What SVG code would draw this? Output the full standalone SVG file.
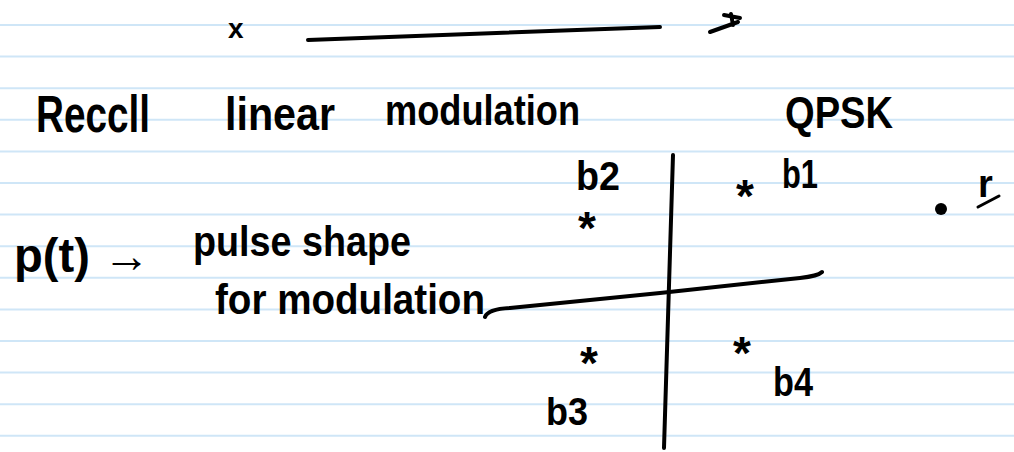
<svg xmlns="http://www.w3.org/2000/svg" width="1014" height="452" viewBox="0 0 1014 452">
<style>
.rule{stroke:#cfe6f7;stroke-width:2}
.ink{font-family:"Liberation Sans","DejaVu Sans",sans-serif;fill:#000;font-weight:bold}
.star{font-family:"Liberation Sans","DejaVu Sans",sans-serif;fill:#000;font-weight:bold;font-size:46px}
.pen{stroke:#000;fill:none;stroke-linecap:round;stroke-linejoin:round}
</style>
<rect width="1014" height="452" fill="#fff"/>
<g id="paper-lines">
<line class="rule" x1="0" y1="25" x2="1014" y2="25"/>
<line class="rule" x1="0" y1="56.6" x2="1014" y2="56.6"/>
<line class="rule" x1="0" y1="88.2" x2="1014" y2="88.2"/>
<line class="rule" x1="0" y1="119.8" x2="1014" y2="119.8"/>
<line class="rule" x1="0" y1="151.4" x2="1014" y2="151.4"/>
<line class="rule" x1="0" y1="183" x2="1014" y2="183"/>
<line class="rule" x1="0" y1="214.6" x2="1014" y2="214.6"/>
<line class="rule" x1="0" y1="246.2" x2="1014" y2="246.2"/>
<line class="rule" x1="0" y1="277.8" x2="1014" y2="277.8"/>
<line class="rule" x1="0" y1="309.4" x2="1014" y2="309.4"/>
<line class="rule" x1="0" y1="341" x2="1014" y2="341"/>
<line class="rule" x1="0" y1="372.6" x2="1014" y2="372.6"/>
<line class="rule" x1="0" y1="404.2" x2="1014" y2="404.2"/>
<line class="rule" x1="0" y1="435.8" x2="1014" y2="435.8"/>
</g>
<g id="connectors">
<path class="pen" stroke-width="4" d="M308 40 L660 27"/>
<path class="pen" stroke-width="4" d="M710 32 L738 22 M724 15 L740 18 M731 14 L733 25"/>
<path class="pen" stroke-width="4" d="M673 155 Q669 300 664 448"/>
<path class="pen" stroke-width="4" d="M485 317 Q488 309 510 308 L660 293 L800 278 Q818 276 822 272"/>
<path class="pen" stroke-width="3" d="M978 207 L999 196"/>
</g>
<g id="header">
<text class="ink" x="228" y="38" font-size="28">x</text>
</g>
<g id="title">
<text class="ink" x="36" y="132" font-size="52" textLength="114" lengthAdjust="spacingAndGlyphs">Reccll</text>
<text class="ink" x="225" y="130" font-size="46" textLength="110" lengthAdjust="spacingAndGlyphs">linear</text>
<text class="ink" x="385" y="125" font-size="42" textLength="195" lengthAdjust="spacingAndGlyphs">modulation</text>
<text class="ink" x="785" y="128" font-size="44" textLength="108" lengthAdjust="spacingAndGlyphs">QPSK</text>
</g>
<g id="pulse">
<text class="ink" x="14" y="272" font-size="48" textLength="136" lengthAdjust="spacingAndGlyphs">p(t) →</text>
<text class="ink" x="193" y="256" font-size="42" textLength="218" lengthAdjust="spacingAndGlyphs">pulse shape</text>
<text class="ink" x="215" y="314" font-size="42" textLength="270" lengthAdjust="spacingAndGlyphs">for modulation</text>
</g>
<g id="b1">
<text class="star" x="736" y="212">*</text>
<text class="ink" x="782" y="188" font-size="40" textLength="36" lengthAdjust="spacingAndGlyphs">b1</text>
</g>
<g id="b2">
<text class="ink" x="576" y="190" font-size="40" textLength="44" lengthAdjust="spacingAndGlyphs">b2</text>
<text class="star" x="578" y="244">*</text>
</g>
<g id="b3">
<text class="star" x="580" y="379">*</text>
<text class="ink" x="546" y="425" font-size="38" textLength="42" lengthAdjust="spacingAndGlyphs">b3</text>
</g>
<g id="b4">
<text class="star" x="733" y="369">*</text>
<text class="ink" x="773" y="396" font-size="40" textLength="40" lengthAdjust="spacingAndGlyphs">b4</text>
</g>
<g id="r">
<circle cx="941" cy="209" r="6" fill="#000"/>
<text class="ink" x="978" y="197" font-size="38">r</text>
</g>
</svg>
